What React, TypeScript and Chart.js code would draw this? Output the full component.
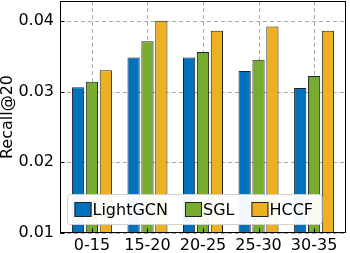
import React, { useEffect, useRef } from "react";
import { Chart, registerables } from "chart.js";

Chart.register(...registerables);

const categories = ["0-15", "15-20", "20-25", "25-30", "30-35"];
const seriesNames = ["LightGCN", "SGL", "HCCF"];
const lightgcn = [0.0306, 0.0348, 0.0348, 0.0329, 0.0305];
const sgl = [0.0314, 0.0371, 0.0356, 0.0345, 0.0322];
const hccf = [0.033, 0.04, 0.0386, 0.0392, 0.0386];
const colors = ["#0072BD", "#77AC30", "#EDB120"];
const yTicks = [0.01, 0.02, 0.03, 0.04];
const yTitle = "Recall@20";

const FONT = "'DejaVu Sans', sans-serif";

const framePlugin = {
  id: "frameLegend",
  beforeDatasetsDraw(chart: any) {
    const { ctx, chartArea, scales } = chart;
    ctx.save();
    ctx.strokeStyle = "#a8a8a8";
    ctx.lineWidth = 1;
    ctx.setLineDash([4, 3]);
    ctx.beginPath();
    scales.y.ticks.forEach((tk: any) => {
      const py = Math.round(scales.y.getPixelForValue(tk.value)) + 0.5;
      ctx.moveTo(chartArea.left, py);
      ctx.lineTo(chartArea.right, py);
    });
    scales.x.ticks.forEach((tk: any) => {
      const px = Math.round(scales.x.getPixelForValue(tk.value)) + 0.5;
      ctx.moveTo(px, chartArea.top);
      ctx.lineTo(px, chartArea.bottom);
    });
    ctx.stroke();
    ctx.restore();
  },
  afterDatasetsDraw(chart: any) {
    const { ctx, chartArea } = chart;
    ctx.save();
    ctx.font = `16px ${FONT}`;
    const names = chart.data.datasets.map((d: any) => d.label);
    const fills = chart.data.datasets.map((d: any) => d.backgroundColor);
    const padL = 7;
    const sw = 17;
    const sh = 15;
    const textGap = 1;
    const itemGap = 17;
    const padR = 9;
    let total = padL;
    names.forEach((n: string, i: number) => {
      total += sw + textGap + ctx.measureText(n).width;
      total += i < names.length - 1 ? itemGap : padR;
    });
    const bx = chartArea.left + 7.5;
    const bh = 30;
    const by = chartArea.bottom - 8.5 - bh;
    const r = 3;
    ctx.beginPath();
    ctx.moveTo(bx + r, by);
    ctx.lineTo(bx + total - r, by);
    ctx.arcTo(bx + total, by, bx + total, by + r, r);
    ctx.lineTo(bx + total, by + bh - r);
    ctx.arcTo(bx + total, by + bh, bx + total - r, by + bh, r);
    ctx.lineTo(bx + r, by + bh);
    ctx.arcTo(bx, by + bh, bx, by + bh - r, r);
    ctx.lineTo(bx, by + r);
    ctx.arcTo(bx, by, bx + r, by, r);
    ctx.closePath();
    ctx.fillStyle = "rgba(255,255,255,0.95)";
    ctx.fill();
    ctx.strokeStyle = "#d0d0d0";
    ctx.lineWidth = 1;
    ctx.stroke();
    let x = bx + padL;
    const cy = by + bh / 2;
    names.forEach((n: string, i: number) => {
      ctx.fillStyle = fills[i];
      ctx.fillRect(x, cy - sh / 2, sw, sh);
      ctx.strokeStyle = "#222";
      ctx.lineWidth = 1;
      ctx.strokeRect(x + 0.5, cy - sh / 2 + 0.5, sw - 1, sh - 1);
      x += sw + textGap;
      ctx.fillStyle = "#000";
      ctx.textBaseline = "middle";
      ctx.textAlign = "left";
      ctx.fillText(n, x, cy + 1);
      x += ctx.measureText(n).width + itemGap;
    });
    ctx.restore();
  },
  afterDraw(chart: any) {
    const { ctx, chartArea, scales } = chart;
    ctx.save();
    ctx.strokeStyle = "#000";
    ctx.lineWidth = 1;
    const l = Math.round(chartArea.left) + 0.5;
    const t = Math.round(chartArea.top) + 0.5;
    const r = Math.round(chartArea.right) - 0.5;
    const b = Math.round(chartArea.bottom) - 0.5;
    ctx.strokeRect(l, t, r - l, b - t);
    ctx.beginPath();
    scales.y.ticks.forEach((tk: any) => {
      const py = Math.round(scales.y.getPixelForValue(tk.value)) + 0.5;
      ctx.moveTo(l, py);
      ctx.lineTo(l + 4, py);
    });
    scales.x.ticks.forEach((tk: any) => {
      const px = Math.round(scales.x.getPixelForValue(tk.value)) + 0.5;
      ctx.moveTo(px, b);
      ctx.lineTo(px, b - 4);
    });
    ctx.stroke();
    ctx.restore();
  },
};

export default function App() {
  const ref = useRef<HTMLCanvasElement | null>(null);
  useEffect(() => {
    if (!ref.current) return;
    const series = [lightgcn, sgl, hccf];
    const chart = new Chart(ref.current, {
      type: "bar",
      data: {
        datasets: series.map((vals, si) => ({
          label: seriesNames[si],
          data: vals.map((v, i) => ({ x: i, y: v })),
          backgroundColor: colors[si],
          borderColor: "#222",
          borderWidth: 1,
          categoryPercentage: 0.75,
          barPercentage: 0.88,
        })),
      },
      options: {
        animation: false,
        responsive: false,
        devicePixelRatio: 1,
        layout: { autoPadding: false, padding: { top: 1, right: 4, left: 0, bottom: 0 } },
        plugins: { legend: { display: false }, tooltip: { enabled: false } },
        scales: {
          x: {
            type: "linear",
            min: -0.575,
            max: categories.length - 1 + 0.575,
            offset: false,
            grid: { offset: false, display: false, drawTicks: false },
            border: { display: false },
            afterBuildTicks: (scale: any) => {
              scale.ticks = categories.map((_, i) => ({ value: i }));
            },
            afterFit: (scale: any) => {
              scale.height = 20;
              scale.paddingLeft = 0;
              scale.paddingRight = 0;
              scale.paddingTop = 0;
              scale.paddingBottom = 0;
            },
            ticks: {
              autoSkip: false,
              maxRotation: 0,
              padding: 3,
              color: "#000",
              font: { size: 16, family: FONT },
              callback: (v: any) => categories[v as number],
            },
          } as any,
          y: {
            min: 0.01,
            max: 0.0428,
            grid: { display: false, drawTicks: false },
            border: { display: false },
            afterBuildTicks: (scale: any) => {
              scale.ticks = yTicks.map((v) => ({ value: v }));
            },
            afterFit: (scale: any) => {
              scale.width = 60;
              scale.paddingLeft = 0;
              scale.paddingRight = 0;
              scale.paddingTop = 0;
              scale.paddingBottom = 0;
            },
            ticks: {
              padding: 6,
              color: "#000",
              font: { size: 16, family: FONT },
              callback: (v: any) => Number(v).toFixed(2),
            },
            title: {
              display: true,
              text: yTitle,
              color: "#000",
              padding: 0,
              font: { size: 16, family: FONT, lineHeight: 1 },
            },
          } as any,
        },
      },
      plugins: [framePlugin],
    });
    return () => chart.destroy();
  }, []);
  return (
    <div style={{ position: "fixed", left: 0, top: 0, width: 350, height: 253, background: "#fff" }}>
      <canvas ref={ref} width={350} height={253} />
    </div>
  );
}
